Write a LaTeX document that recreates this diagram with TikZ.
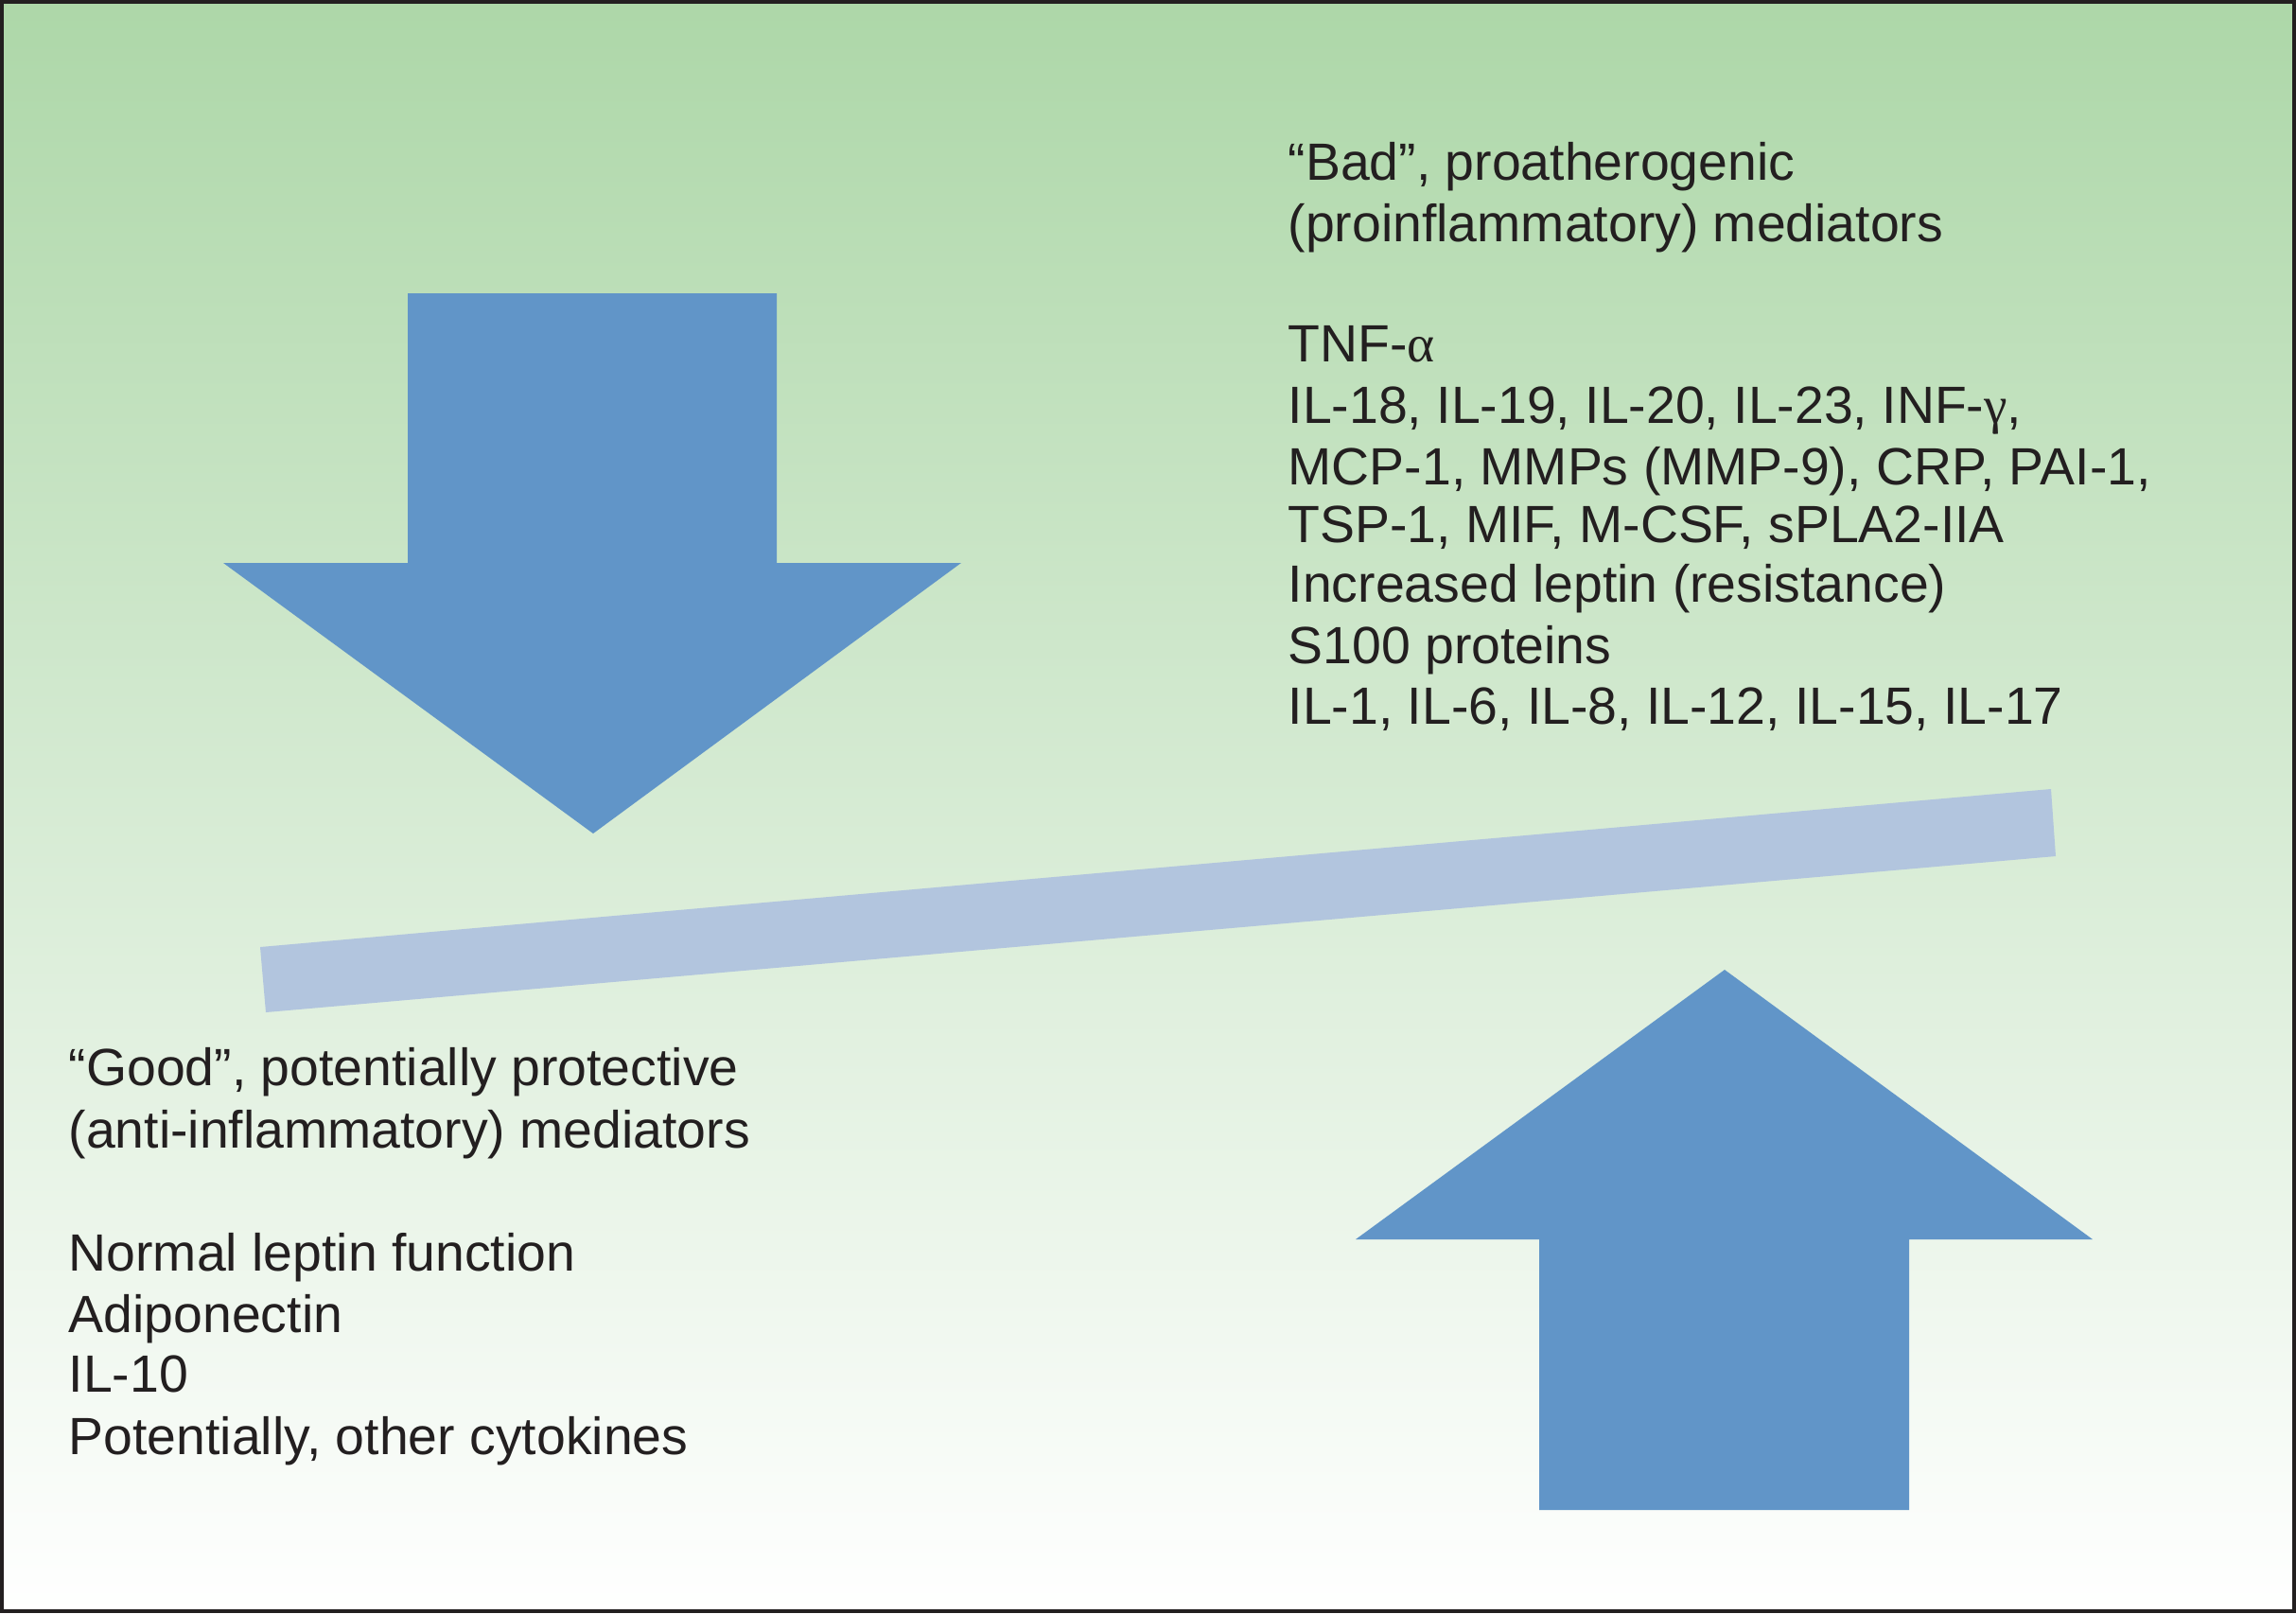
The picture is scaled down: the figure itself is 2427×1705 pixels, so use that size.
\documentclass[tikz,border=0pt]{standalone}
\usepackage{fontspec}
\setmainfont{Liberation Sans}
\newfontfamily\grk{Liberation Serif}
\definecolor{bgtop}{RGB}{173,215,168}
\definecolor{arrowblue}{RGB}{97,149,200}
\definecolor{beamblue}{RGB}{178,197,222}
\definecolor{ink}{RGB}{35,31,32}
\tikzset{
  lbl/.style={anchor=base west, inner sep=0pt, text=ink, font=\fontsize{15.75pt}{18pt}\selectfont},
  bigarrow/.style={fill=arrowblue},
  beam/.style={fill=beamblue}
}
\begin{document}
\begin{tikzpicture}[x=0.01cm,y=-0.01cm]
\useasboundingbox (0,0) rectangle (2427,1705);
\shade[top color=bgtop, bottom color=white] (0,0) rectangle (2427,1705);
% down arrow
\fill[bigarrow] (431,310) -- (821,310) -- (821,595) -- (1016,595) -- (627,881) -- (236,595) -- (431,595) -- cycle;
% up arrow
\fill[bigarrow] (1627,1596) -- (2018,1596) -- (2018,1310) -- (2212,1310) -- (1823,1025) -- (1433,1310) -- (1627,1310) -- cycle;
% beam
\fill[beam] (275,1001) -- (2168,834) -- (2173,905) -- (281,1070) -- cycle;
% bad mediators
\node[lbl] (b1) at (1361,190) {“Bad”, proatherogenic};
\node[lbl] (b2) at (1361,255) {(proinflammatory) mediators};
\node[lbl] (b3) at (1361,382) {TNF-{\grk α}};
\node[lbl] (b4) at (1361,447) {IL-18, IL-19, IL-20, IL-23, INF-{\grk γ},};
\node[lbl] (b5) at (1361,512) {MCP-1, MMPs (MMP-9), CRP, PAI-1,};
\node[lbl] (b6) at (1361,573) {TSP-1, MIF, M-CSF, sPLA2-IIA};
\node[lbl] (b7) at (1361,636) {Increased leptin (resistance)};
\node[lbl] (b8) at (1361,701) {S100 proteins};
\node[lbl] (b9) at (1361,765) {IL-1, IL-6, IL-8, IL-12, IL-15, IL-17};
% good mediators
\node[lbl] (g1) at (72,1147) {“Good”, potentially protective};
\node[lbl] (g2) at (72,1213) {(anti-inflammatory) mediators};
\node[lbl] (g3) at (72,1343) {Normal leptin function};
\node[lbl] (g4) at (72,1408) {Adiponectin};
\node[lbl] (g5) at (72,1471) {IL-10};
\node[lbl] (g6) at (72,1537) {Potentially, other cytokines};
% frame
\draw[ink, line width=0.04cm] (2,2) rectangle (2425,1703);
\end{tikzpicture}
\end{document}
